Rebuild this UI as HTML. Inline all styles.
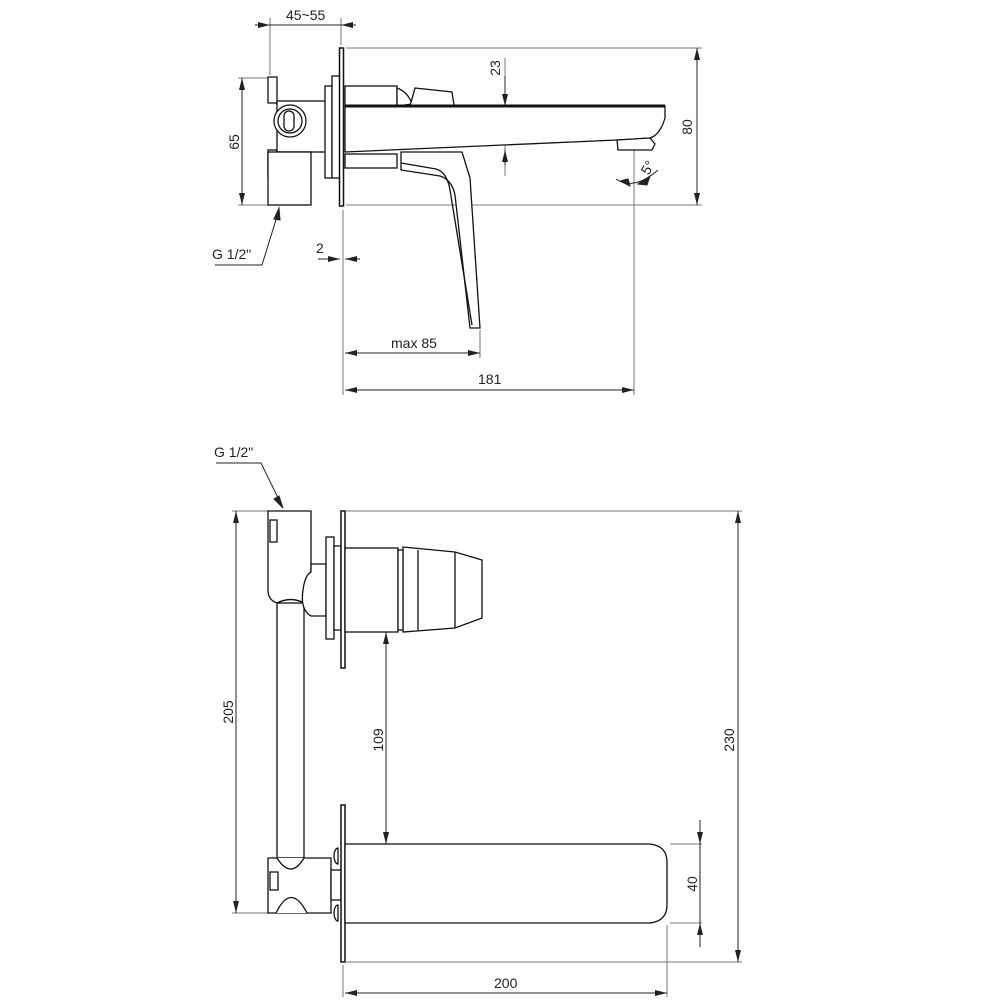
<!DOCTYPE html>
<html><head><style>
html,body{margin:0;padding:0;background:#fff;}
svg{display:block;}
text{font-family:"Liberation Sans",sans-serif;font-size:14px;fill:#222;font-stretch:condensed;}
</style></head><body>
<svg width="1000" height="1000" viewBox="0 0 1000 1000" xmlns="http://www.w3.org/2000/svg">
<defs>
<marker id="a" viewBox="0 0 12 6" refX="12" refY="3" markerWidth="12" markerHeight="6" orient="auto-start-reverse" markerUnits="userSpaceOnUse"><path d="M0,0 L12,3 L0,6 z" fill="#222"/></marker>
</defs>
<g stroke="#777" stroke-width="1" fill="none">
<!-- top view extension lines -->
<line x1="270" y1="18" x2="270" y2="75"/>
<line x1="341" y1="18" x2="341" y2="45"/>
<line x1="346" y1="48" x2="702" y2="48"/>
<line x1="346" y1="205" x2="702" y2="205"/>
<line x1="238" y1="78" x2="268" y2="78"/>
<line x1="238" y1="205" x2="268" y2="205"/>
<line x1="343" y1="210" x2="343" y2="395"/>
<line x1="480" y1="330" x2="480" y2="358"/>
<line x1="634" y1="118" x2="634" y2="395"/>
<line x1="505" y1="58" x2="505" y2="176"/>
<!-- bottom view extension lines -->
<line x1="232" y1="511" x2="268" y2="511"/>
<line x1="232" y1="913" x2="268" y2="913"/>
<line x1="346" y1="511" x2="742" y2="511"/>
<line x1="346" y1="962" x2="742" y2="962"/>
<line x1="670" y1="844" x2="702" y2="844"/>
<line x1="670" y1="923" x2="702" y2="923"/>
<line x1="667" y1="925" x2="667" y2="997"/>
<line x1="343" y1="965" x2="343" y2="997"/>
</g>
<g stroke="#222" stroke-width="1" fill="none">
<!-- dims top -->
<line x1="255" y1="25" x2="270" y2="25" marker-end="url(#a)"/>
<line x1="270" y1="25" x2="341" y2="25"/>
<line x1="356" y1="25" x2="341" y2="25" marker-end="url(#a)"/>
<line x1="242" y1="78" x2="242" y2="205" marker-start="url(#a)" marker-end="url(#a)"/>
<line x1="697" y1="48" x2="697" y2="205" marker-start="url(#a)" marker-end="url(#a)"/>
<line x1="505" y1="76" x2="505" y2="106" marker-end="url(#a)"/>
<line x1="505" y1="165" x2="505" y2="150" marker-end="url(#a)"/>
<line x1="318" y1="259" x2="340" y2="259" marker-end="url(#a)"/>
<line x1="360" y1="259" x2="345" y2="259" marker-end="url(#a)"/>
<line x1="345" y1="353" x2="480" y2="353" marker-start="url(#a)" marker-end="url(#a)"/>
<line x1="345" y1="390" x2="634" y2="390" marker-start="url(#a)" marker-end="url(#a)"/>
<polyline points="215,265 262,265 279,210"/>
<path d="M279,208 l-5,11 l6,1z" fill="#222"/>
<path d="M616,179 Q634,191 658,170"/>
<path d="M620,181 l10,5 l-2,-7z M650,176 l-12,8 l9,1z" fill="#222"/>
<line x1="626" y1="120" x2="626" y2="150" stroke-dasharray="8,3,2,3" stroke="#555"/>
<!-- dims bottom -->
<line x1="236" y1="511" x2="236" y2="913" marker-start="url(#a)" marker-end="url(#a)"/>
<line x1="738" y1="511" x2="738" y2="962" marker-start="url(#a)" marker-end="url(#a)"/>
<line x1="386" y1="632" x2="386" y2="844" marker-start="url(#a)" marker-end="url(#a)"/>
<line x1="700" y1="820" x2="700" y2="844" marker-end="url(#a)"/>
<line x1="700" y1="947" x2="700" y2="923" marker-end="url(#a)"/>
<line x1="700" y1="844" x2="700" y2="923"/>
<line x1="345" y1="993" x2="667" y2="993" marker-start="url(#a)" marker-end="url(#a)"/>
<polyline points="216,463 261,463 282,506"/>
<path d="M283,508 l-9,-9 l5,-3z" fill="#222"/>
</g>
<!-- TOP VIEW drawing -->
<g stroke="#111" stroke-width="1.3" fill="#fff">
<rect x="268" y="77" width="9" height="26"/>
<rect x="268" y="150" width="9" height="27"/>
<rect x="277" y="101" width="53" height="51"/>
<rect x="268" y="152" width="43" height="53"/>
<circle cx="290" cy="121" r="16"/><circle cx="290" cy="121" r="12"/>
<rect x="284" y="111" width="10" height="20" rx="5"/>
<rect x="325" y="86" width="7" height="92"/>
<rect x="332" y="76" width="8" height="102"/>
<rect x="339.5" y="48" width="4" height="158" stroke-width="1.5"/>
<rect x="345" y="86" width="52" height="20"/>
<path d="M397,88 Q408,92 412,104 L397,106z"/>
<path d="M415,88 L452,92 L454,105 L410,106z"/>
<rect x="345" y="154" width="52" height="14"/>
<path d="M345,106 L665,106 L665,118 Q660,135 650,138 L617,140 L345,152z" fill="#fff"/>
<line x1="345" y1="106" x2="665" y2="106" stroke-width="3"/>
<path d="M617,140 L650,138 L655,144 L652,150 L618,150z"/>
<path d="M401,152 L401,170 L440,176 Q452,180 455,195 L470,328 L480,328 L470,178 L462,152z"/>
<path d="M401,163 L436,169 Q447,172 450,190 L472,325" fill="none"/>
</g>
<!-- BOTTOM VIEW drawing -->
<g stroke="#111" stroke-width="1.3" fill="#fff">
<path d="M268,511 L311,511 L311,603 L304,603 Q291,596 277,603 Q268,600 268,590z"/>
<rect x="270" y="520" width="7" height="22"/>
<rect x="277" y="603" width="27" height="255"/>
<path d="M277,603 Q291,596 304,603" fill="none"/>
<path d="M311,564 L326,564 L326,616 L311,616 Q300,610 303,590 Q305,575 311,572z"/>
<rect x="326" y="537" width="8" height="102"/>
<rect x="334" y="546" width="7" height="84"/>
<rect x="341" y="511" width="4" height="157" stroke-width="1.5"/>
<rect x="345" y="548" width="53" height="84"/>
<path d="M403,547 L455,552 L482,560 L482,618 L455,628 L403,632z"/>
<line x1="455" y1="552" x2="455" y2="628"/>
<line x1="418" y1="550" x2="418" y2="630"/>
<rect x="398" y="550" width="5" height="80"/>
<path d="M268,858 L331,858 L331,913 L268,913z"/>
<path d="M277,858 Q291,880 304,858" fill="#fff"/>
<path d="M276,913 Q291,882 307,913" fill="#fff"/>
<rect x="270" y="872" width="8" height="18"/>
<rect x="331" y="870" width="10" height="30"/>
<rect x="341" y="805" width="4" height="157" stroke-width="1.5"/>
<path d="M345,844 L650,844 Q667,846 667,862 L667,905 Q667,921 650,923 L345,923z"/>
<path d="M338,848 a4,8 0 0 0 0,16z M338,905 a4,8 0 0 0 0,16z"/>
</g>
<!-- text -->
<text x="286" y="20">45~55</text>
<text x="212" y="259">G 1/2"</text>
<text x="316" y="253">2</text>
<text x="391" y="348">max 85</text>
<text x="478" y="384">181</text>
<text transform="translate(239,142) rotate(-90)" text-anchor="middle">65</text>
<text transform="translate(500,68) rotate(-90)" text-anchor="middle">23</text>
<text transform="translate(692,127) rotate(-90)" text-anchor="middle">80</text>
<text transform="translate(652,170) rotate(-60)" text-anchor="middle">5°</text>
<text x="214" y="457">G 1/2"</text>
<text transform="translate(233,712) rotate(-90)" text-anchor="middle">205</text>
<text transform="translate(383,740) rotate(-90)" text-anchor="middle">109</text>
<text transform="translate(734,740) rotate(-90)" text-anchor="middle">230</text>
<text transform="translate(697,884) rotate(-90)" text-anchor="middle">40</text>
<text x="494" y="988">200</text>
</svg>
</body></html>
